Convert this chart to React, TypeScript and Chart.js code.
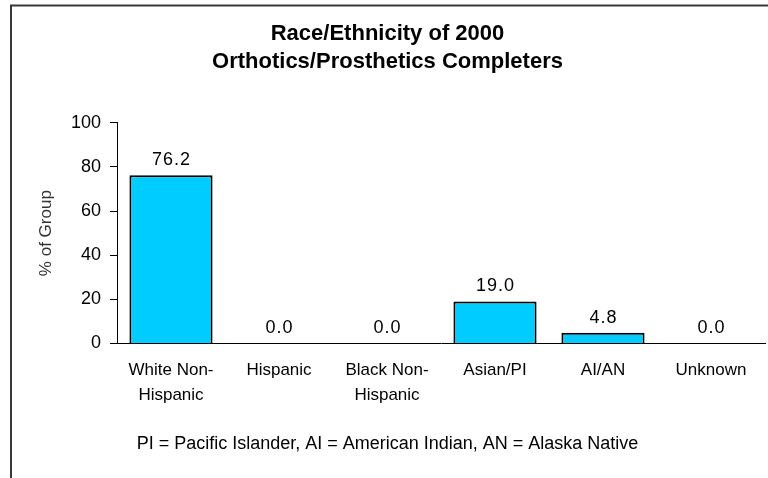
import React, { useEffect, useRef } from "react";
import { Chart, registerables } from "chart.js";

Chart.register(...registerables);

const titleLines = ["Race/Ethnicity of 2000", "Orthotics/Prosthetics Completers"];
const categories = [
  ["White Non-", "Hispanic"],
  ["Hispanic"],
  ["Black Non-", "Hispanic"],
  ["Asian/PI"],
  ["AI/AN"],
  ["Unknown"],
];
const percentValues = [76.2, 0.0, 0.0, 19.0, 4.8, 0.0];
const yTicks = [0, 20, 40, 60, 80, 100];
const yAxisTitle = "% of Group";
const footnote = "PI = Pacific Islander, AI = American Indian, AN = Alaska Native";

const FONT = "Arial, 'Liberation Sans', Helvetica, sans-serif";

const framePlugin = {
  id: "frame",
  beforeDraw(chart: any) {
    const ctx = chart.ctx;
    ctx.save();
    ctx.strokeStyle = "#383838";
    ctx.lineWidth = 2;
    ctx.beginPath();
    ctx.moveTo(11, 478);
    ctx.lineTo(11, 5.5);
    ctx.lineTo(768, 5.5);
    ctx.stroke();
    ctx.restore();
  },
};

const valueLabelPlugin = {
  id: "valueLabels",
  afterDatasetsDraw(chart: any) {
    const ctx = chart.ctx;
    const meta = chart.getDatasetMeta(0);
    ctx.save();
    ctx.fillStyle = "#000";
    ctx.font = `18px ${FONT}`;
    try {
      (ctx as any).letterSpacing = "1px";
    } catch (e) {}
    ctx.textAlign = "center";
    ctx.textBaseline = "middle";
    meta.data.forEach((bar: any, i: number) => {
      ctx.fillText(percentValues[i].toFixed(1), bar.x + 0.5, bar.y - 15);
    });
    ctx.restore();
  },
};

export default function App() {
  const ref = useRef<HTMLCanvasElement | null>(null);
  useEffect(() => {
    if (!ref.current) return;
    const chart = new Chart(ref.current, {
      type: "bar",
      data: {
        labels: categories as any,
        datasets: [
          {
            data: percentValues,
            backgroundColor: "#00CCFF",
            borderColor: "#000",
            borderWidth: 2,
            barPercentage: 0.77,
            categoryPercentage: 1,
          },
        ],
      },
      options: {
        responsive: false,
        animation: false,
        layout: { padding: { left: 10, right: 3, top: 0, bottom: 0 } },
        plugins: {
          legend: { display: false },
          tooltip: { enabled: false },
          title: {
            display: true,
            text: titleLines,
            color: "#000",
            font: { family: FONT, size: 22, weight: "bold", lineHeight: 1.27 },
            padding: { top: 20, bottom: 47 },
          },
          subtitle: {
            display: true,
            position: "bottom",
            text: footnote,
            color: "#000",
            font: { family: FONT, size: 18, lineHeight: 1.2 },
            padding: { top: 0, bottom: 23 },
          },
        },
        scales: {
          x: {
            grid: { display: false, drawTicks: false },
            border: { display: true, color: "#000", width: 1 },
            ticks: {
              color: "#000",
              font: { family: FONT, size: 17, lineHeight: 1.47 },
              padding: 14,
              maxRotation: 0,
              autoSkip: false,
            },
            afterFit(scale: any) {
              scale.height = 90;
            },
          },
          y: {
            min: 0,
            max: 100,
            afterBuildTicks(scale: any) {
              scale.ticks = yTicks.map((v) => ({ value: v }));
            },
            grid: {
              drawOnChartArea: false,
              drawTicks: true,
              tickLength: 7,
              color: "#000",
            },
            border: { display: true, color: "#000", width: 1 },
            ticks: {
              color: "#000",
              font: { family: FONT, size: 18 },
              padding: 9,
            },
            title: {
              display: true,
              text: yAxisTitle,
              color: "#333",
              font: { family: FONT, size: 17 },
              padding: { top: 26, bottom: 0 },
            },
            afterFit(scale: any) {
              scale.width = 107;
            },
          },
        },
      },
      plugins: [framePlugin, valueLabelPlugin],
    } as any);
    return () => chart.destroy();
  }, []);
  return (
    <div style={{ position: "absolute", left: 0, top: 0, width: 768, height: 478, background: "#fff" }}>
      <canvas ref={ref} width={768} height={478} style={{ display: "block" }} />
    </div>
  );
}
